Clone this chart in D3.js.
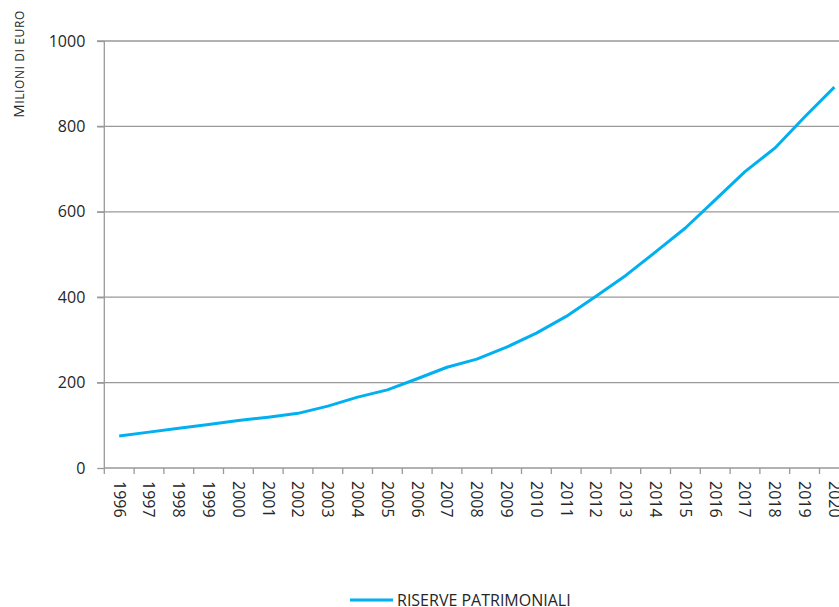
<!DOCTYPE html>
<html><head><meta charset="utf-8">
<script src="https://cdn.jsdelivr.net/npm/d3@7"></script>
<style>body{margin:0;background:#fff}svg{display:block}text{font-family:"Open Sans",sans-serif;fill:#262626}</style>
</head><body><svg id="c" width="839" height="607"></svg>
<script>
const years = ["1996","1997","1998","1999","2000","2001","2002","2003","2004","2005","2006","2007","2008","2009","2010","2011","2012","2013","2014","2015","2016","2017","2018","2019","2020"];
const riserve = [75,84,93,102,111,119,128,145,166,183,209,236,255,283,316,355,402,451,506,562,628,694,749,822,892];
const yTicks = [0,200,400,600,800,1000];
const seriesName = "RISERVE PATRIMONIALI";

const svg = d3.select("#c");
const x = d3.scaleBand().domain(years).range([104.3, 104.3 + 25*29.8]);
const y = d3.scaleLinear().domain([0,1000]).range([468, 41]);
const grey = "#999";

// gridlines
svg.append("g").selectAll("line").data(yTicks.filter(d=>d>0)).join("line")
  .attr("x1", 97).attr("x2", 839).attr("y1", d=>y(d)).attr("y2", d=>y(d))
  .attr("stroke", grey).attr("stroke-width", 1.3);

// y axis
const ya = svg.append("g").attr("transform","translate(104.3,0)")
  .call(d3.axisLeft(y).tickValues(yTicks).tickSize(7).tickPadding(12).tickFormat(d3.format("d")));
ya.select(".domain").attr("stroke", grey).attr("stroke-width",1.3).attr("d","M0,41V468");
ya.selectAll(".tick line").attr("stroke", grey).attr("stroke-width",1.3);
ya.selectAll("text").style("font-size","16px").style("font-weight","400").attr("fill","#262626");

// x axis
const xa = svg.append("g").attr("transform","translate(0,468)")
  .call(d3.axisBottom(x).tickSize(0).tickFormat(d=>d));
xa.select(".domain").attr("stroke", grey).attr("stroke-width",1.3).attr("d","M104.3,0H839");
xa.selectAll(".tick line").remove();
xa.selectAll(".tick text")
  .attr("transform","rotate(90)").attr("text-anchor","start")
  .attr("x", 13).attr("y", 0).attr("dy","0.35em")
  .style("font-size","16px").style("font-weight","400").attr("fill","#262626");
// boundary ticks
svg.append("g").selectAll("line").data(d3.range(25)).join("line")
  .attr("x1", i=>x(years[i])).attr("x2", i=>x(years[i]))
  .attr("y1", 468).attr("y2", 474).attr("stroke", grey).attr("stroke-width",1.3);

// line
const line = d3.line().x((d,i)=>x(years[i])+x.bandwidth()/2).y(d=>y(d));
svg.append("path").datum(riserve).attr("d", line)
  .attr("fill","none").attr("stroke","#00B0F0").attr("stroke-width",3).attr("stroke-linejoin","round");

// y title (small caps)
const yt = svg.append("text").attr("transform","translate(24,64) rotate(-90)").attr("text-anchor","middle")
  .style("letter-spacing","0.6px");
yt.append("tspan").text("M").style("font-size","15px");
yt.append("tspan").text("ILIONI DI EURO").style("font-size","12px");

// legend
svg.append("line").attr("x1",350).attr("x2",393).attr("y1",600).attr("y2",600)
  .attr("stroke","#00B0F0").attr("stroke-width",3);
svg.append("text").attr("x",397).attr("y",606).text(seriesName)
  .style("font-size","16px").style("font-weight","400");
</script></body></html>
